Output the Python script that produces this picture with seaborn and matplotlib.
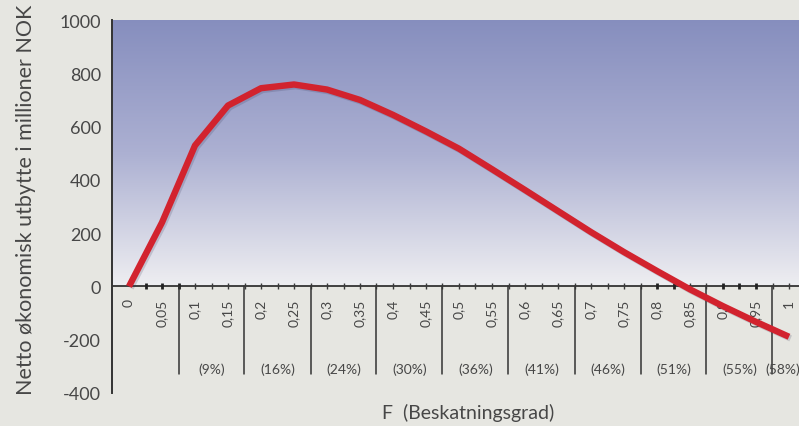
import numpy as np
import pandas as pd
import matplotlib
matplotlib.use("Agg")
import matplotlib.pyplot as plt
import matplotlib.patheffects as pe
import seaborn as sns

# ---- data ----
F = [0.0, 0.05, 0.10, 0.15, 0.20, 0.25, 0.30, 0.35, 0.40, 0.45, 0.50,
     0.55, 0.60, 0.65, 0.70, 0.75, 0.80, 0.85, 0.90, 0.95, 1.00]
utbytte = [0, 240, 529, 679, 744, 758, 739, 700, 644, 582, 517,
           440, 362, 283, 204, 129, 58, -11, -74, -133, -189]
xtick_vals = [0.0, 0.05, 0.10, 0.15, 0.20, 0.25, 0.30, 0.35, 0.40, 0.45, 0.50,
              0.55, 0.60, 0.65, 0.70, 0.75, 0.80, 0.85, 0.90, 0.95, 1.00]
xtick_labels = ["0", "0,05", "0,1", "0,15", "0,2", "0,25", "0,3", "0,35", "0,4", "0,45",
                "0,5", "0,55", "0,6", "0,65", "0,7", "0,75", "0,8", "0,85", "0,9", "0,95", "1"]
pct_pos = [0.125, 0.225, 0.325, 0.425, 0.525, 0.625, 0.725, 0.825, 0.925, 0.99]
pct_labels = ["(9%)", "(16%)", "(24%)", "(30%)", "(36%)", "(41%)", "(46%)", "(51%)", "(55%)", "(58%)"]
divider_pos = [0.075, 0.175, 0.275, 0.375, 0.475, 0.575, 0.675, 0.775, 0.875, 0.975]
ytick_vals = [-400, -200, 0, 200, 400, 600, 800, 1000]
ytick_labels = ["-400", "-200", "0", "200", "400", "600", "800", "1000"]

df = pd.DataFrame({"F": F, "utbytte": utbytte})

sns.set_theme(style="white")
plt.rcParams["font.family"] = ["Lato", "DejaVu Sans"]
plt.rcParams["axes.unicode_minus"] = False

BG = "#e6e6e1"
TXT = "#474747"
W = "normal"
fig = plt.figure(figsize=(7.99, 4.27), dpi=100, facecolor=BG)
ax = fig.add_axes([112 / 799, 33 / 427, 687 / 799, 373 / 427])
ax.set_facecolor(BG)

xmin, xmax = -17 / 660, 1 + 10 / 660
ax.set_xlim(xmin, xmax)
ax.set_ylim(-400, 1000)

# gradient background for the positive region
top = np.array([134, 142, 190]) / 255
mid = np.array([172, 176, 210]) / 255
bot = np.array([238, 238, 241]) / 255
n = 256
t = np.linspace(0, 1, n)[:, None]
grad = np.where(t < 0.5, top + (mid - top) * (t / 0.5), mid + (bot - mid) * ((t - 0.5) / 0.5))
img = grad[:, None, :].repeat(2, axis=1)
ax.imshow(img, extent=[xmin, xmax, 0, 1000], aspect="auto", origin="upper", zorder=0)

# red line with soft shadow
sns.lineplot(data=df, x="F", y="utbytte", ax=ax, color="#d2232e", linewidth=4.6,
             solid_capstyle="butt", zorder=5,
             path_effects=[pe.SimpleLineShadow(offset=(1.2, -1.2), shadow_color="#303050", alpha=0.18),
                           pe.Normal()])

# zero axis line and ticks
ax.axhline(0, color="#333333", linewidth=1.3, zorder=3)
for k in range(1, 41):
    xv = k * 0.025
    bold = k in (1, 2, 3, 32, 33, 36, 37, 38)
    ax.plot([xv, xv], [-11, 11], color="#222222" if bold else "#3a3a3a",
            linewidth=2.0 if bold else 1.0, zorder=3, solid_capstyle="butt")

# dividers
for d in divider_pos:
    ax.plot([d, d], [0, -330], color="#333333", linewidth=1.1, zorder=3, clip_on=False)

# rotated x labels
for xv, lab in zip(xtick_vals, xtick_labels):
    ax.text(xv, -45, lab, rotation=90, ha="center", va="top", fontsize=10,
            color=TXT, fontweight=W, zorder=4)

# percent labels
for xv, lab in zip(pct_pos, pct_labels):
    ax.text(xv, -308, lab, ha="center", va="center", fontsize=10,
            color=TXT, fontweight=W, zorder=4)

# y axis
ax.set_yticks(ytick_vals)
ax.set_yticklabels(ytick_labels, fontsize=13, color=TXT, fontweight=W)
ax.tick_params(axis="y", direction="out", length=5, width=1.3, color="#333333", pad=3)
ax.set_xticks([])
for s in ["top", "right", "bottom"]:
    ax.spines[s].set_visible(False)
ax.spines["left"].set_color("#333333")
ax.spines["left"].set_linewidth(1.4)
ax.spines["left"].set_zorder(6)

ax.set_ylabel("Netto økonomisk utbytte i millioner NOK", fontsize=15.5, color=TXT,
              fontweight=W)
ax.yaxis.set_label_coords((36 - 112) / 687, (427 - 200 - 33) / 373)
fig.text(468 / 799, 1 - 413 / 427, "F  (Beskatningsgrad)", ha="center", va="center",
         fontsize=14, color=TXT, fontweight=W)
ax.set_xlabel("")

fig.savefig("out.png", dpi=100, facecolor=BG)
